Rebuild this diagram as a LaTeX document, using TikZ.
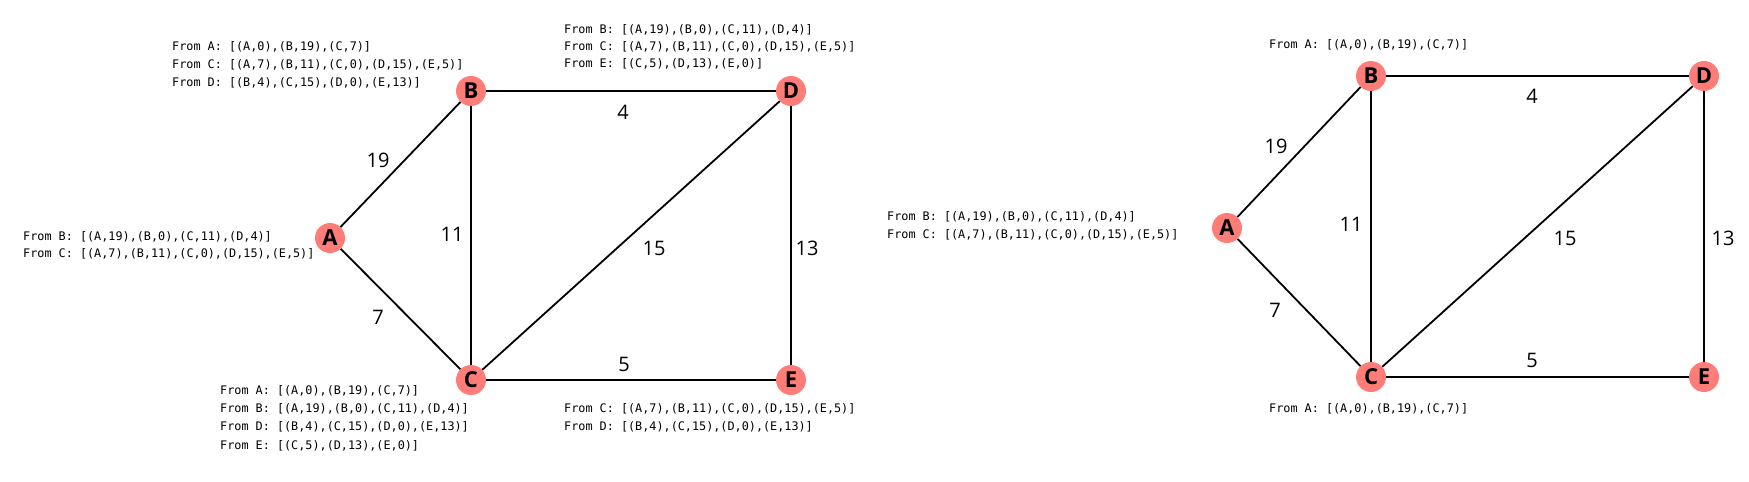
\documentclass[tikz,border=0pt]{standalone}
\usepackage{fontspec}
\setmainfont{Open Sans}
\newfontfamily\monofont{DejaVu Sans Mono}
\definecolor{nodefill}{RGB}{255,125,120}
\begin{document}
\begin{tikzpicture}[x=1pt,y=-1pt,
  vert/.style={circle,fill=nodefill,minimum size=30pt,inner sep=0pt,font=\fontsize{22}{22}\selectfont\bfseries},
  edge/.style={draw=black,line width=1.8pt},
  wlabel/.style={font=\fontsize{20}{24}\selectfont,inner sep=0pt},
  info/.style={anchor=west,inner sep=0pt,align=left,font=\monofont\fontsize{11.8}{#1}\selectfont},
  info/.default=18]
\useasboundingbox (0,0) rectangle (1749,482);
% ---------- left graph ----------
\node[vert] (A1) at (330,238) {A};
\node[vert] (B1) at (471,91) {B};
\node[vert] (C1) at (471,380) {C};
\node[vert] (D1) at (791,91) {D};
\node[vert] (E1) at (791,380) {E};
\draw[edge] (A1) -- (B1);
\draw[edge] (A1) -- (C1);
\draw[edge] (B1) -- (C1);
\draw[edge] (B1) -- (D1);
\draw[edge] (C1) -- (D1);
\draw[edge] (C1) -- (E1);
\draw[edge] (D1) -- (E1);
\node[wlabel] (l19a) at (378,160) {19};
\node[wlabel] (l7a) at (378,317) {7};
\node[wlabel] (l11a) at (452,234) {11};
\node[wlabel] (l4a) at (623,112) {4};
\node[wlabel] (l15a) at (654,248) {15};
\node[wlabel] (l13a) at (807,248) {13};
\node[wlabel] (l5a) at (624,364) {5};
\node[info=18.3] (tA1) at (172,65) {From A: [(A,0),(B,19),(C,7)]\\From C: [(A,7),(B,11),(C,0),(D,15),(E,5)]\\From D: [(B,4),(C,15),(D,0),(E,13)]};
\node[info=17.2] (tD1) at (564,47) {From B: [(A,19),(B,0),(C,11),(D,4)]\\From C: [(A,7),(B,11),(C,0),(D,15),(E,5)]\\From E: [(C,5),(D,13),(E,0)]};
\node[info=17.5] (tA1b) at (23,245.5) {From B: [(A,19),(B,0),(C,11),(D,4)]\\From C: [(A,7),(B,11),(C,0),(D,15),(E,5)]};
\node[info=18.3] (tC1) at (220,418) {From A: [(A,0),(B,19),(C,7)]\\From B: [(A,19),(B,0),(C,11),(D,4)]\\From D: [(B,4),(C,15),(D,0),(E,13)]\\From E: [(C,5),(D,13),(E,0)]};
\node[info=18] (tE1) at (564,418) {From C: [(A,7),(B,11),(C,0),(D,15),(E,5)]\\From D: [(B,4),(C,15),(D,0),(E,13)]};
% ---------- right graph ----------
\node[vert] (A2) at (1227,228) {A};
\node[vert] (B2) at (1371,76) {B};
\node[vert] (C2) at (1371,377) {C};
\node[vert] (D2) at (1704,76) {D};
\node[vert] (E2) at (1704,377) {E};
\draw[edge] (A2) -- (B2);
\draw[edge] (A2) -- (C2);
\draw[edge] (B2) -- (C2);
\draw[edge] (B2) -- (D2);
\draw[edge] (C2) -- (D2);
\draw[edge] (C2) -- (E2);
\draw[edge] (D2) -- (E2);
\node[wlabel] (l19b) at (1276,146) {19};
\node[wlabel] (l7b) at (1275,310) {7};
\node[wlabel] (l11b) at (1351,224) {11};
\node[wlabel] (l4b) at (1532,96) {4};
\node[wlabel] (l15b) at (1565,238) {15};
\node[wlabel] (l13b) at (1723,238) {13};
\node[wlabel] (l5b) at (1532,360) {5};
\node[info] (tB2) at (1269,45) {From A: [(A,0),(B,19),(C,7)]};
\node[info=17.5] (tA2) at (887,226) {From B: [(A,19),(B,0),(C,11),(D,4)]\\From C: [(A,7),(B,11),(C,0),(D,15),(E,5)]};
\node[info] (tC2) at (1269,409) {From A: [(A,0),(B,19),(C,7)]};
\end{tikzpicture}
\end{document}
